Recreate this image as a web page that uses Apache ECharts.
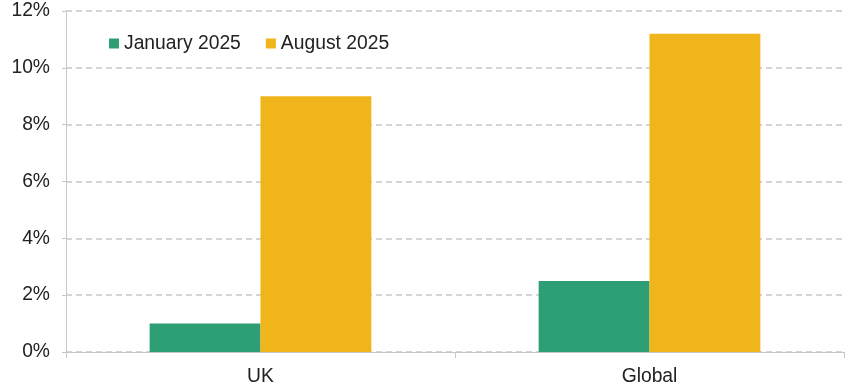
<!DOCTYPE html>
<html><head><meta charset="utf-8">
<script src="https://cdn.jsdelivr.net/npm/echarts@6/dist/echarts.min.js"></script>
<style>html,body{margin:0;padding:0;background:#fff}#c{width:848px;height:390px}</style>
</head><body><div id="c"></div>
<script>
var categories = ['UK', 'Global'];
var seriesNames = ['January 2025', 'August 2025'];
var january2025 = [1.0, 2.5];
var august2025 = [9.0, 11.2];
var yTicks = [0, 2, 4, 6, 8, 10, 12];

var chart = echarts.init(document.getElementById('c'), null, {renderer: 'canvas'});
var font = 'Liberation Sans, Arial, sans-serif';
chart.setOption({
  animation: false,
  grid: {left: 66, right: 4, top: 11, bottom: 38, containLabel: false},
  legend: {
    left: 104, top: 29, itemWidth: 10, itemHeight: 10, itemGap: 25,
    icon: 'rect',
    textStyle: {fontFamily: font, fontSize: 19.3, color: '#222', padding: [0, 0, 0, 0]},
    data: seriesNames
  },
  xAxis: {
    type: 'category', data: categories,
    axisLine: {lineStyle: {color: '#c8c8c8', width: 1}},
    axisTick: {show: true, length: 6, lineStyle: {color: '#c8c8c8'}},
    axisLabel: {fontFamily: font, fontSize: 19.3, color: '#222', margin: 15}
  },
  yAxis: {
    type: 'value', min: yTicks[0], max: yTicks[yTicks.length - 1], interval: 2,
    axisLine: {show: true, lineStyle: {color: '#c8c8c8', width: 1}},
    axisTick: {show: true, length: 5, lineStyle: {color: '#c8c8c8', type: 'dashed'}},
    splitLine: {lineStyle: {color: '#c8c8c8', type: [6, 4], width: 1.5}},
    axisLabel: {fontFamily: font, fontSize: 19.3, color: '#222', margin: 16, padding: [4, 0, 0, 0],
      formatter: function (v) { return v + '%'; }}
  },
  series: [
    {name: seriesNames[0], type: 'bar', data: january2025, barGap: '0%', barCategoryGap: '43%',
     itemStyle: {color: '#2E9E74'}},
    {name: seriesNames[1], type: 'bar', data: august2025, barGap: '0%', barCategoryGap: '43%',
     itemStyle: {color: '#F0B51A'}}
  ]
});
</script></body></html>
